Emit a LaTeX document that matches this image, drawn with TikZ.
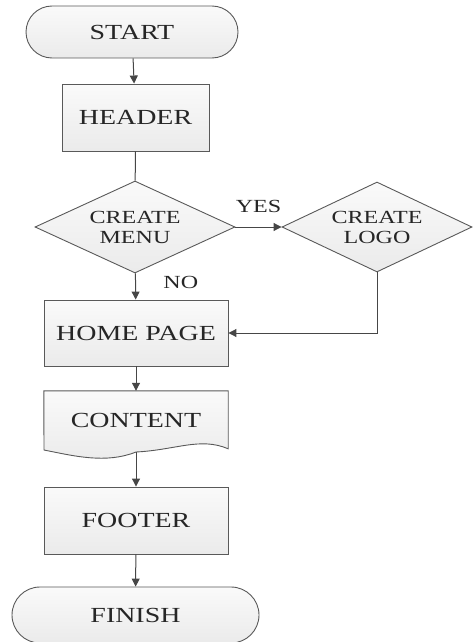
\documentclass[tikz,border=0pt]{standalone}
\usepackage{fontspec}
\setmainfont{Liberation Serif}[FakeStretch=1.3]
\usepackage{tikz}
\usetikzlibrary{arrows.meta, positioning, calc, shapes.misc, shapes.geometric, backgrounds}

\begin{document}
\begin{tikzpicture}[
    x=1pt, y=-1pt,
    >={Triangle[length=8pt, width=8pt]},
    font=\fontsize{21.5}{23}\selectfont,
    text=black!85,
    boxfill/.style={
        draw=gray!70!black,
        line width=0.9pt,
        top color=gray!4,
        bottom color=gray!16
    },
    box/.style={
        boxfill,
        minimum width=184pt,
        minimum height=67pt,
        inner sep=0pt,
        align=center
    },
    terminal/.style={
        box,
        rounded rectangle,
        minimum height=52pt
    },
    decision/.style={
        box,
        diamond,
        aspect=2.2,
        minimum width=200pt,
        minimum height=92pt,
        font=\fontsize{18.5}{20}\selectfont
    },
    document/.style={
        minimum width=184pt,
        minimum height=58pt,
        inner sep=0pt
    },
    flow/.style={
        ->,
        draw=gray!55!black,
        line width=1pt
    },
    answer/.style={
        font=\fontsize{18.5}{19}\selectfont
    }
]
\useasboundingbox (0,0) rectangle (472,642);

% Main column
\node[terminal, minimum width=212pt] (start) at (132,32) {START};
\node[box, minimum width=147pt] (header) at (135.5,117.5) {HEADER};
\node[decision] (menu) at (135,227) {CREATE\\MENU};
\node[decision, minimum width=190pt, minimum height=90pt] (logo) at (377,227) {CREATE\\LOGO};
\node[box, minimum height=66pt] (home) at (136,333) {HOME PAGE};
\node[document] (content) at (136,420) {CONTENT};
\node[box] (footer) at (136,520.5) {FOOTER};
\node[terminal, minimum width=247pt, minimum height=56pt] (finish) at (135.5,615) {FINISH};

% Document shape behind CONTENT
\begin{scope}[on background layer]
\draw[boxfill]
    (content.north west) -- (content.north east) -- ++(0,58)
    .. controls +(-28,-12) and +(40,-2) .. (136,452)
    coordinate (contentbot)
    .. controls +(-30,12) and +(30,6) .. (44,450) -- cycle;
\end{scope}

% Connectors
\draw[flow] (start) -- (header);
\draw[flow, -] (header) -- (menu);
\draw[flow] (menu) -- (logo) node[answer, midway, above=10pt] {YES};
\draw[flow] (menu) -- (home) node[answer, midway, right=24pt, yshift=4pt] {NO};
\draw[flow] (logo.south) |- (home.east);
\draw[flow] (home) -- (content);
\draw[flow] (contentbot) -- (footer);
\draw[flow] (footer) -- (finish);

\end{tikzpicture}
\end{document}
